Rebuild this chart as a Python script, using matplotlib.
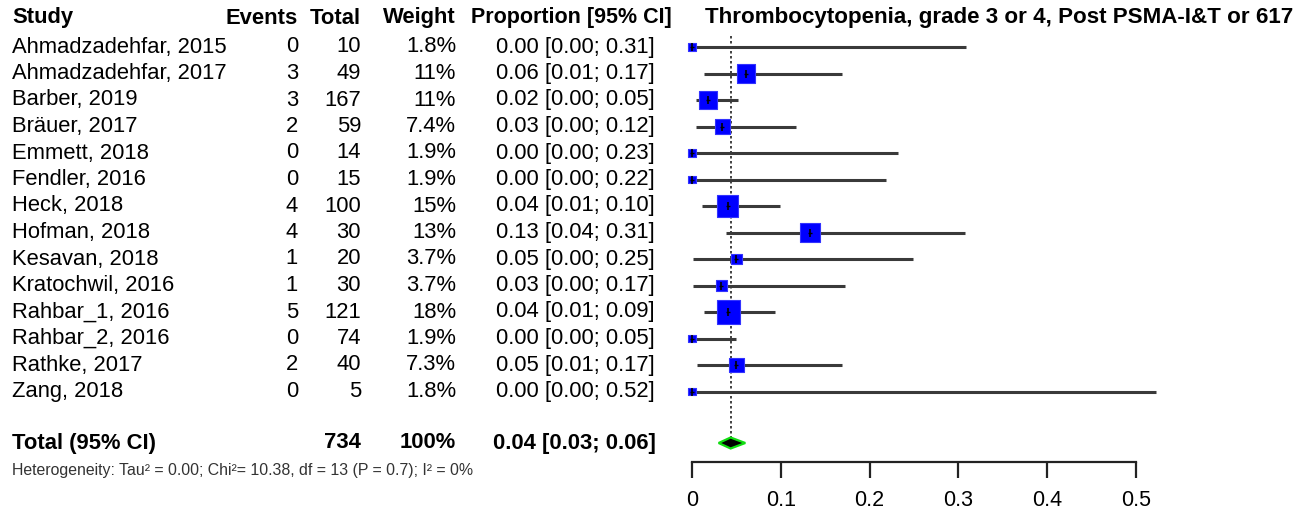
import matplotlib
matplotlib.use("Agg")
import matplotlib.pyplot as plt
from matplotlib.ticker import FuncFormatter
from matplotlib.patches import Polygon

plt.rcParams['font.family'] = ['Liberation Sans', 'DejaVu Sans']

studies = ["Ahmadzadehfar, 2015", "Ahmadzadehfar, 2017", "Barber, 2019", "Bräuer, 2017",
           "Emmett, 2018", "Fendler, 2016", "Heck, 2018", "Hofman, 2018", "Kesavan, 2018",
           "Kratochwil, 2016", "Rahbar_1, 2016", "Rahbar_2, 2016", "Rathke, 2017", "Zang, 2018"]
events = [0, 3, 3, 2, 0, 0, 4, 4, 1, 1, 5, 0, 2, 0]
totals = [10, 49, 167, 59, 14, 15, 100, 30, 20, 30, 121, 74, 40, 5]
weight_labels = ["1.8%", "11%", "11%", "7.4%", "1.9%", "1.9%", "15%", "13%", "3.7%",
                 "3.7%", "18%", "1.9%", "7.3%", "1.8%"]
weights = [1.8, 11, 11, 7.4, 1.9, 1.9, 15, 13, 3.7, 3.7, 18, 1.9, 7.3, 1.8]
props = [0.000, 0.061, 0.018, 0.034, 0.000, 0.000, 0.040, 0.133, 0.050, 0.033, 0.041, 0.000, 0.050, 0.000]
ci_low = [0.000, 0.013, 0.004, 0.004, 0.000, 0.000, 0.011, 0.038, 0.001, 0.001, 0.014, 0.000, 0.006, 0.000]
ci_high = [0.308, 0.169, 0.052, 0.117, 0.232, 0.218, 0.099, 0.307, 0.249, 0.172, 0.094, 0.049, 0.169, 0.522]

total_n = 734
total_weight = "100%"
pooled = 0.0435
pooled_low = 0.03
pooled_high = 0.06
heterogeneity = "Heterogeneity: Tau² = 0.00; Chi²= 10.38, df = 13 (P = 0.7); I² = 0%"
title = "Thrombocytopenia, grade 3 or 4, Post PSMA-I&T or 617"
xticks = [0, 0.1, 0.2, 0.3, 0.4, 0.5]

W, H = 1296, 512
fig = plt.figure(figsize=(W / 100, H / 100), dpi=100)

# forest panel: x maps 0..0.5 onto pixels 692..1136, y uses pixel rows (top = 0)
ax_left, ax_right, ax_bottom_px = 692, 1136, 462
ax = fig.add_axes([ax_left / W, 1 - ax_bottom_px / H, (ax_right - ax_left) / W, ax_bottom_px / H])
ax.set_xlim(0, 0.5)
ax.set_ylim(ax_bottom_px, 0)
for s in ("top", "right", "left"):
    ax.spines[s].set_visible(False)
ax.spines["bottom"].set_color("#222222")
ax.spines["bottom"].set_linewidth(1.6)
ax.set_yticks([])
ax.set_xticks(xticks)
ax.xaxis.set_major_formatter(FuncFormatter(lambda v, p: "0" if v == 0 else f"{v:g}"))
ax.tick_params(axis="x", direction="out", length=11.5, width=1.6, color="#222222",
               pad=9, labelsize=15.5)
ax.patch.set_alpha(0)

row0, step = 47, 26.5
rows = [row0 + i * step for i in range(len(studies))]
total_y = 443
fs = 15.8

def ytext(y):
    return 1 - y / H

# confidence interval lines
for y, lo, hi in zip(rows, ci_low, ci_high):
    ax.plot([lo, hi], [y, y], color="#3a3a3a", lw=2.2, solid_capstyle="butt",
            clip_on=False, zorder=2)

# study squares, area proportional to weight
ax.scatter(props, rows, s=[15.5 * w for w in weights], marker="s", color="#0000FF",
           edgecolors="#3333FF", linewidths=0.8, zorder=3, clip_on=False)
ax.scatter(props, rows, s=40, marker="|", color="black", linewidths=1.2, zorder=4, clip_on=False)
ax.scatter(props, rows, s=12, marker="_", color="black", linewidths=1.0, zorder=4, clip_on=False)

# pooled estimate line and diamond
ax.plot([pooled, pooled], [36, total_y - 6], color="#222222", lw=1.2,
        linestyle=(0, (1.5, 1.5)), zorder=1, clip_on=False)
diamond = Polygon([[pooled_low, total_y], [pooled, total_y - 5.5],
                   [pooled_high, total_y], [pooled, total_y + 5.5]],
                  closed=True, facecolor="black", edgecolor="#11dd11", lw=1.6,
                  zorder=5, clip_on=False)
ax.add_patch(diamond)

# header
hy = ytext(18)
fig.text(12 / W, hy, "Study", fontsize=fs, fontweight="bold", ha="left", va="center")
fig.text(298 / W, hy, "Events", fontsize=fs, fontweight="bold", ha="right", va="center")
fig.text(361 / W, hy, "Total", fontsize=fs, fontweight="bold", ha="right", va="center")
fig.text(456 / W, hy, "Weight", fontsize=fs, fontweight="bold", ha="right", va="center")
fig.text(672 / W, hy, "Proportion [95% CI]", fontsize=15.5, fontweight="bold", ha="right", va="center")
fig.text(705 / W, hy, title, fontsize=16.1, fontweight="bold", ha="left", va="center")

# study rows
for y, name, e, n, wl, p, lo, hi in zip(rows, studies, events, totals, weight_labels,
                                         props, ci_low, ci_high):
    ty = ytext(y)
    fig.text(12 / W, ty, name, fontsize=fs, ha="left", va="center")
    fig.text(298 / W, ty, str(e), fontsize=fs, ha="right", va="center")
    fig.text(361 / W, ty, str(n), fontsize=fs, ha="right", va="center")
    fig.text(456 / W, ty, wl, fontsize=fs, ha="right", va="center")
    fig.text(655 / W, ty, f"{p:.2f} [{lo:.2f}; {hi:.2f}]", fontsize=fs, ha="right", va="center")

# total row
ty = ytext(total_y)
fig.text(12 / W, ty, "Total (95% CI)", fontsize=fs, fontweight="bold", ha="left", va="center")
fig.text(361 / W, ty, str(total_n), fontsize=fs, fontweight="bold", ha="right", va="center")
fig.text(456 / W, ty, total_weight, fontsize=fs, fontweight="bold", ha="right", va="center")
fig.text(656 / W, ty, f"{pooled:.2f} [{pooled_low:.2f}; {pooled_high:.2f}]", fontsize=fs,
         fontweight="bold", ha="right", va="center")
fig.text(12 / W, ytext(470), heterogeneity, fontsize=11.4, color="#333333", ha="left", va="center")

fig.savefig("out.png", dpi=100, facecolor="white")
